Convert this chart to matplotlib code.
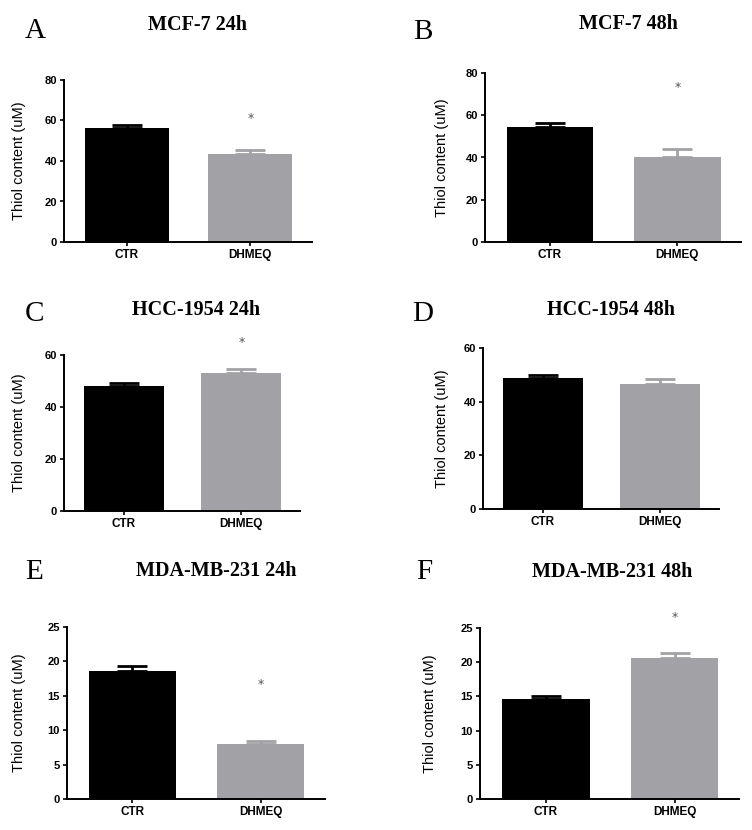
import matplotlib.pyplot as plt

# data
panel_letters = ["A", "B", "C", "D", "E", "F"]
titles = ["MCF-7 24h", "MCF-7 48h", "HCC-1954 24h", "HCC-1954 48h",
          "MDA-MB-231 24h", "MDA-MB-231 48h"]
groups = ["CTR", "DHMEQ"]
ctr_mean = [56.2, 54.5, 48.1, 48.9, 18.6, 14.6]
ctr_err = [1.5, 2.0, 1.3, 1.2, 0.7, 0.5]
dhmeq_mean = [43.4, 40.0, 53.2, 46.4, 8.0, 20.6]
dhmeq_err = [1.8, 4.2, 1.5, 2.2, 0.4, 0.7]
y_max = [80, 80, 60, 60, 25, 25]
y_step = [20, 20, 20, 20, 5, 5]
star_y = [61, 73, 64.7, None, 16.7, 26.6]

W, H = 752, 830
# pixel layout: axis left, axis right, top (y_max), bottom (zero)
boxes = [(64, 312, 80, 242), (485, 741, 73, 242),
         (64, 300, 355, 511), (483, 719, 348, 509),
         (67, 325, 627, 799), (480, 739, 628, 799)]
label_right = [26, 449, 26, 449, 26, 437]
title_pos = [(197, 25), (628, 24), (196, 310), (611, 310), (216, 571), (612, 572)]
letter_pos = [(25, 31), (413, 32), (25, 314), (412, 314), (25, 572), (416, 572)]

colors = ["black", "#a2a2a6"]

fig = plt.figure(figsize=(W / 100, H / 100), dpi=100)
fig.patch.set_facecolor("white")

for i in range(6):
    l, r, t, b = boxes[i]
    ax = fig.add_axes([l / W, 1 - b / H, (r - l) / W, (b - t) / H])
    means = [ctr_mean[i], dhmeq_mean[i]]
    errs = [ctr_err[i], dhmeq_err[i]]
    for j in range(2):
        ax.errorbar(j, means[j], yerr=[[0], [errs[j]]], color=colors[j],
                    capsize=10.5, capthick=2, elinewidth=2, zorder=1)
        ax.bar(j, means[j], width=0.68, color=colors[j], zorder=2)
    ax.set_xlim(-0.51, 1.5)
    ax.set_ylim(0, y_max[i])
    ax.set_yticks(range(0, y_max[i] + 1, y_step[i]))
    ax.set_xticks([0, 1])
    ax.set_xticklabels(groups)
    for s in ["top", "right"]:
        ax.spines[s].set_visible(False)
    for s in ["left", "bottom"]:
        ax.spines[s].set_linewidth(1.4)
    ax.tick_params(axis="both", width=1.2, length=3, pad=2)
    ax.tick_params(axis="y", labelsize=8)
    ax.tick_params(axis="x", labelsize=8.5)
    for lab in ax.get_xticklabels() + ax.get_yticklabels():
        lab.set_fontweight("bold")
        lab.set_family("Liberation Sans")
    ax.set_ylabel("Thiol content (uM)", fontsize=10.5, family="Liberation Sans")
    ax.yaxis.set_label_coords((label_right[i] - l) / (r - l), 0.5)
    if star_y[i] is not None:
        ax.text(1, star_y[i], "*", ha="center", va="center", fontsize=9,
                color="#555555", clip_on=False)

    tx, ty = title_pos[i]
    fig.text(tx / W, 1 - ty / H, titles[i], ha="center", va="center",
             fontsize=14.5, fontweight="bold", family="Liberation Serif")
    lx, ly = letter_pos[i]
    fig.text(lx / W, 1 - ly / H, panel_letters[i], ha="left", va="center",
             fontsize=21, family="Liberation Serif")

plt.savefig("out.png", dpi=100)
